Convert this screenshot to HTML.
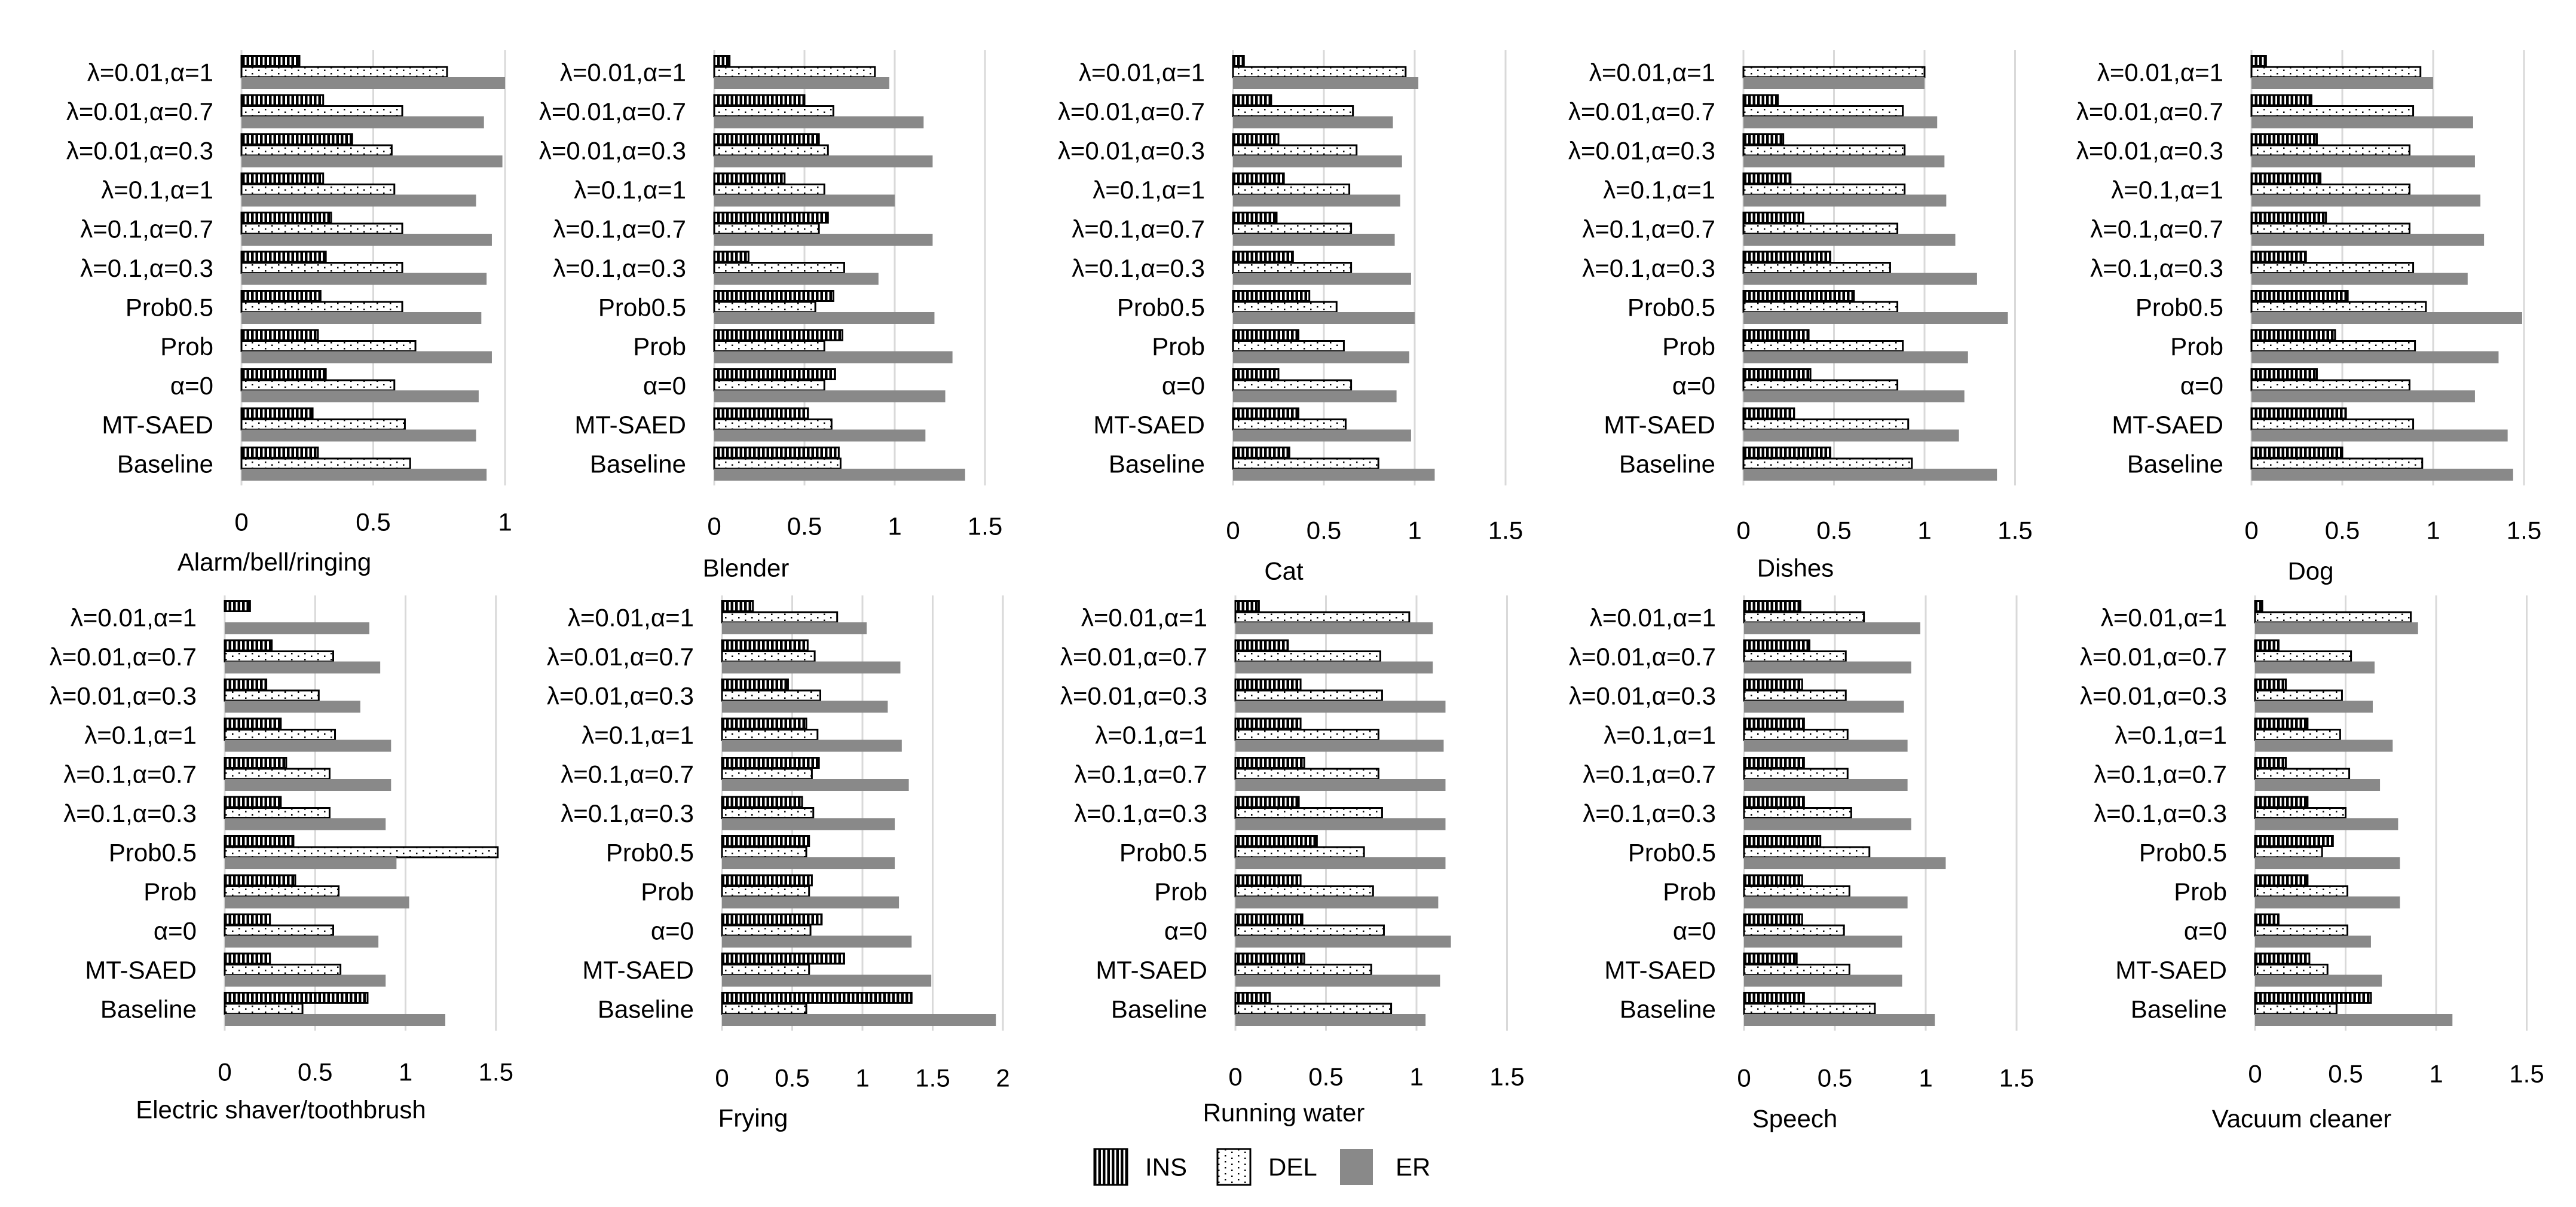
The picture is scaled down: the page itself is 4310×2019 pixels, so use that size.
<!DOCTYPE html>
<html><head><meta charset="utf-8">
<style>
html,body{margin:0;padding:0;background:#fff;}
svg{display:block;font-family:"Liberation Sans","DejaVu Sans",sans-serif;}
</style></head>
<body>
<svg id="chart" xmlns="http://www.w3.org/2000/svg" width="4310" height="2019" viewBox="0 0 4310 2019">
<defs>
<pattern id="insPat" patternUnits="userSpaceOnUse" width="7.5" height="10"><rect width="7.5" height="10" fill="#fff"/><rect width="4.5" height="10" fill="#000"/></pattern>
<pattern id="delPat" patternUnits="userSpaceOnUse" width="22" height="10"><rect width="22" height="10" fill="#fff"/><rect x="3" y="2" width="2.5" height="2.5" fill="#000"/><rect x="14" y="6.5" width="2.5" height="2.5" fill="#000"/></pattern>
</defs>
<g id="panels"></g>
<g id="legend">
  <rect x="1831" y="1922" width="55" height="60" fill="url(#insPat)" stroke="#000" stroke-width="3"/>
  <text x="1916" y="1952" font-size="42" dominant-baseline="central">INS</text>
  <rect x="2037" y="1922" width="55" height="60" fill="url(#delPat)" stroke="#000" stroke-width="3"/>
  <text x="2122" y="1952" font-size="42" dominant-baseline="central">DEL</text>
  <rect x="2242" y="1922" width="55" height="60" fill="#898989"/>
  <text x="2335" y="1952" font-size="42" dominant-baseline="central">ER</text>
</g>
</svg>
<script>
const categories = ["λ=0.01,α=1","λ=0.01,α=0.7","λ=0.01,α=0.3","λ=0.1,α=1","λ=0.1,α=0.7","λ=0.1,α=0.3","Prob0.5","Prob","α=0","MT-SAED","Baseline"];
const panelTitles = ["Alarm/bell/ringing","Blender","Cat","Dishes","Dog","Electric shaver/toothbrush","Frying","Running water","Speech","Vacuum cleaner"];
const axisMax = [1,1.5,1.5,1.5,1.5,1.5,2,1.5,1.5,1.5];
const tickLabels1 = ["0","0.5","1"];
const tickLabels15 = ["0","0.5","1","1.5"];
const tickLabels2 = ["0","0.5","1","1.5","2"];

const insValues = [
 [0.22,0.31,0.42,0.31,0.34,0.32,0.30,0.29,0.32,0.27,0.29],
 [0.085,0.50,0.58,0.39,0.63,0.19,0.66,0.71,0.67,0.52,0.69],
 [0.06,0.21,0.25,0.28,0.24,0.33,0.42,0.36,0.25,0.36,0.31],
 [0.0,0.19,0.22,0.26,0.33,0.48,0.61,0.36,0.37,0.28,0.48],
 [0.08,0.33,0.36,0.38,0.41,0.30,0.53,0.46,0.36,0.52,0.50],
 [0.14,0.26,0.23,0.31,0.34,0.31,0.38,0.39,0.25,0.25,0.79],
 [0.22,0.61,0.47,0.60,0.69,0.57,0.62,0.64,0.71,0.87,1.35],
 [0.13,0.29,0.36,0.36,0.38,0.35,0.45,0.36,0.37,0.38,0.19],
 [0.31,0.36,0.32,0.33,0.33,0.33,0.42,0.32,0.32,0.29,0.33],
 [0.04,0.13,0.17,0.29,0.17,0.29,0.43,0.29,0.13,0.30,0.64]
];
const delValues = [
 [0.78,0.61,0.57,0.58,0.61,0.61,0.61,0.66,0.58,0.62,0.64],
 [0.89,0.66,0.63,0.61,0.58,0.72,0.56,0.61,0.61,0.65,0.70],
 [0.95,0.66,0.68,0.64,0.65,0.65,0.57,0.61,0.65,0.62,0.80],
 [1.00,0.88,0.89,0.89,0.85,0.81,0.85,0.88,0.85,0.91,0.93],
 [0.93,0.89,0.87,0.87,0.87,0.89,0.96,0.90,0.87,0.89,0.94],
 [0.0,0.60,0.52,0.61,0.58,0.58,1.51,0.63,0.60,0.64,0.43],
 [0.82,0.66,0.70,0.68,0.64,0.65,0.60,0.62,0.63,0.62,0.60],
 [0.96,0.80,0.81,0.79,0.79,0.81,0.71,0.76,0.82,0.75,0.86],
 [0.66,0.56,0.56,0.57,0.57,0.59,0.69,0.58,0.55,0.58,0.72],
 [0.86,0.53,0.48,0.47,0.52,0.50,0.37,0.51,0.51,0.40,0.45]
];
const erValues = [
 [1.00,0.92,0.99,0.89,0.95,0.93,0.91,0.95,0.90,0.89,0.93],
 [0.97,1.16,1.21,1.00,1.21,0.91,1.22,1.32,1.28,1.17,1.39],
 [1.02,0.88,0.93,0.92,0.89,0.98,1.00,0.97,0.90,0.98,1.11],
 [1.00,1.07,1.11,1.12,1.17,1.29,1.46,1.24,1.22,1.19,1.40],
 [1.00,1.22,1.23,1.26,1.28,1.19,1.49,1.36,1.23,1.41,1.44],
 [0.80,0.86,0.75,0.92,0.92,0.89,0.95,1.02,0.85,0.89,1.22],
 [1.03,1.27,1.18,1.28,1.33,1.23,1.23,1.26,1.35,1.49,1.95],
 [1.09,1.09,1.16,1.15,1.16,1.16,1.16,1.12,1.19,1.13,1.05],
 [0.97,0.92,0.88,0.90,0.90,0.92,1.11,0.90,0.87,0.87,1.05],
 [0.90,0.66,0.65,0.76,0.69,0.79,0.80,0.80,0.64,0.70,1.09]
];

// layout (pixels)
const panelX0 = [404,1195,2063,2917,3767,376,1208,2067,2918,3773];
const pxPerUnit = [441,302,304,303,304,302.5,235,303,304,303];
const rowTop = [92,1004];
const titleCenter = [459,1248,2148,3004,3866,470,1260,2148,3003,3851];
const titleY = [940,950,955,950,955,1856,1870,1861,1871,1871];
const tickY = [873,880,887,887,887,1793,1803,1801,1803,1796];
const PITCH = 65.5, BAR_H = 20, STEP = 18.5;

const NS = "http://www.w3.org/2000/svg";
const root = document.getElementById("panels");
function mk(tag, attrs, parent){
  const e = document.createElementNS(NS, tag);
  for (const k in attrs) e.setAttribute(k, attrs[k]);
  parent.appendChild(e);
  return e;
}

for (let p = 0; p < 10; p++) {
  const row = p < 5 ? 0 : 1;
  const x0 = panelX0[p], k = pxPerUnit[p], top = rowTop[row];
  const xs = v => x0 + v * k;
  const g = mk("g", {}, root);
  
  
  const ticks = axisMax[p] === 1 ? tickLabels1 : (axisMax[p] === 2 ? tickLabels2 : tickLabels15);
  const gridTop = top - 8, gridBot = top + 10 * PITCH + 57 + 8;
  ticks.forEach((t, i) => {
    const v = parseFloat(t);
    const gl = mk("line", {x1: xs(v), x2: xs(v), y1: gridTop, y2: gridBot, stroke: "#d9d9d9", "stroke-width": 3}, g);
    
    
    const tl = mk("text", {x: xs(v), y: tickY[p], "font-size": 42, "text-anchor": "middle", "dominant-baseline": "central"}, g);
    tl.textContent = t;
    
    
  });
  categories.forEach((c, i) => {
    const gy = top + i * PITCH;
    const lab = mk("text", {x: x0 - 47, y: gy + 29, "font-size": 42, "text-anchor": "end", "dominant-baseline": "central"}, g);
    lab.textContent = c;
    
    
    const iv = insValues[p][i], dv = delValues[p][i], ev = erValues[p][i];
    if (iv > 0) {
      const b = mk("rect", {x: x0, y: gy + 1.5, width: Math.max(0, xs(iv) - x0), height: BAR_H - 3, fill: "url(#insPat)", stroke: "#000", "stroke-width": 3}, g);
      
      
    }
    if (dv > 0) {
      const b = mk("rect", {x: x0, y: gy + STEP + 1.5, width: Math.max(0, xs(dv) - x0), height: BAR_H - 3, fill: "url(#delPat)", stroke: "#000", "stroke-width": 3}, g);
      
      
    }
    const b = mk("rect", {x: x0, y: gy + 2 * STEP, width: Math.max(0, xs(ev) - x0), height: BAR_H, fill: "#898989"}, g);
    
    
  });
  const tt = mk("text", {x: titleCenter[p], y: titleY[p], "font-size": 42, "text-anchor": "middle", "dominant-baseline": "central"}, g);
  tt.textContent = panelTitles[p];
  
  
}
</script>
</body></html>
